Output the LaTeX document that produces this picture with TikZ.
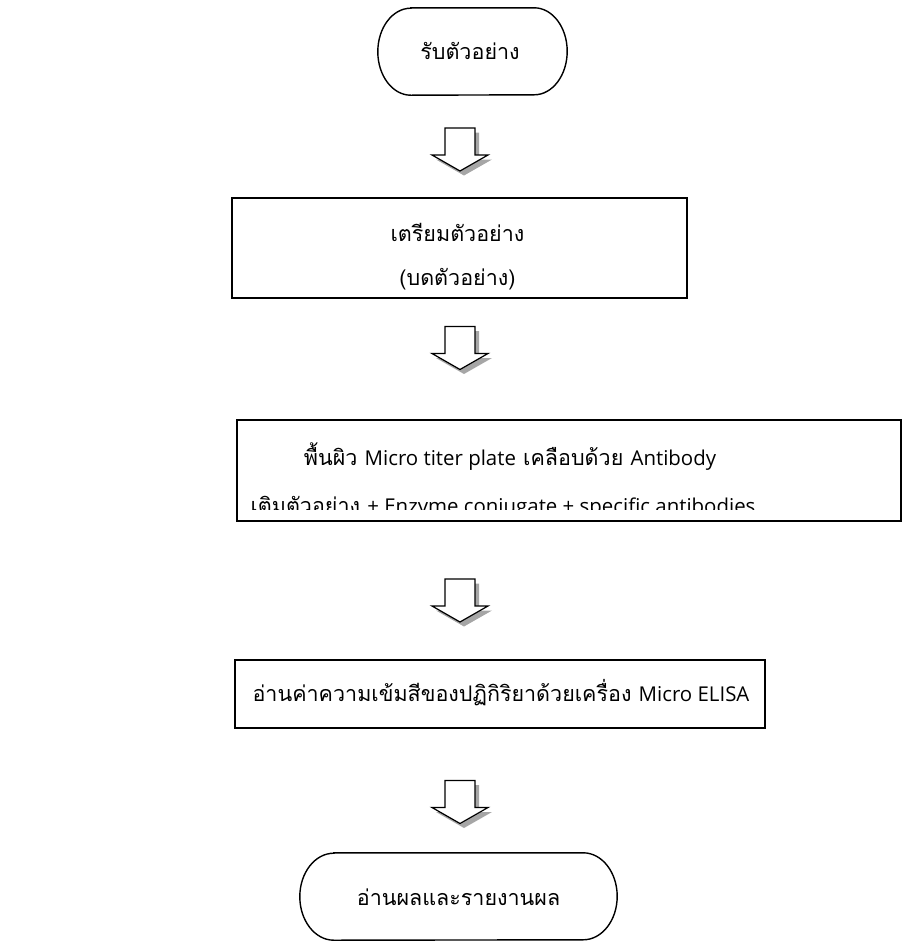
\documentclass[tikz,border=0pt]{standalone}
\usepackage{fontspec}
\setmainfont{Loma}[Script=Thai]
\newfontfamily\latinfont{Open Sans}[Scale=0.95]
\begin{document}
\begin{tikzpicture}[x=1pt,y=-1pt,
  stepbox/.style={draw, line width=1.6pt, rectangle, inner sep=0pt},
  pillnode/.style={minimum height=87pt, inner sep=0pt},
  pilloutline/.style={line width=1.4pt},
  txt/.style={font=\fontsize{21.5}{25}\selectfont, inner sep=0pt},
  downarrow/.pic={
    \fill[gray!70] (-11,-17) -- (19,-17) -- (19,10) -- (32,10) -- (4,26) -- (-24,10) -- (-11,10) -- cycle;
    \draw[line width=1.2pt, fill=white, line join=miter] (-15,-21.5) -- (15,-21.5) -- (15,5.5) -- (28,5.5) -- (0,21.5) -- (-28,5.5) -- (-15,5.5) -- cycle;
  }
]
\useasboundingbox (0,0) rectangle (902,943);
% start / end pills
\node[pillnode, minimum width=189pt] (p1) at (472.5,51.5) {};
\draw[pilloutline] ([xshift=33pt]p1.north west) -- ([xshift=-33pt]p1.north east)
  arc[start angle=90, end angle=-90, x radius=33pt, y radius=43.5pt]
  -- ([xshift=33pt]p1.south west)
  arc[start angle=270, end angle=90, x radius=33pt, y radius=43.5pt] -- cycle;
\node[txt] (t1) at (470,51) {รับตัวอย่าง};

\node[pillnode, minimum width=317pt] (p2) at (458.5,896.5) {};
\draw[pilloutline] ([xshift=34pt]p2.north west) -- ([xshift=-34pt]p2.north east)
  arc[start angle=90, end angle=-90, x radius=34pt, y radius=43.5pt]
  -- ([xshift=34pt]p2.south west)
  arc[start angle=270, end angle=90, x radius=34pt, y radius=43.5pt] -- cycle;
\node[txt] (t5) at (458.5,897) {อ่านผลและรายงานผล};

% box 2
\node[stepbox, minimum width=455pt, minimum height=100pt] (b2) at (459.5,248) {};
\node[txt, anchor=base] (t2a) at (457.5,241) {เตรียมตัวอย่าง};
\node[txt, anchor=base] (t2b) at (457.5,285) {(บดตัวอย่าง)};

% box 3 (text clipped at the bottom)
\node[stepbox, minimum width=663.5pt, minimum height=101pt] (b3) at (569,470.5) {};
\begin{scope}
  \clip (237,420) rectangle (900,509);
  \node[txt, anchor=base] (t3a) at (510,465) {พื้นผิว {\latinfont Micro titer plate} เคลือบด้วย {\latinfont Antibody}};
  \node[txt, anchor=base] (t3b) at (503,513) {เติมตัวอย่าง {\latinfont + Enzyme conjugate + specific antibodies}};
\end{scope}

% box 4
\node[stepbox, minimum width=530pt, minimum height=68pt] (b4) at (500,694) {};
\node[txt, anchor=base] (t4) at (501,701) {อ่านค่าความเข้มสีของปฏิกิริยาด้วยเครื่อง {\latinfont Micro ELISA}};

% block arrows between the steps
\pic at (460,149.5) {downarrow};
\pic at (460,348) {downarrow};
\pic at (460,600.5) {downarrow};
\pic at (460,802) {downarrow};
\end{tikzpicture}
\end{document}
